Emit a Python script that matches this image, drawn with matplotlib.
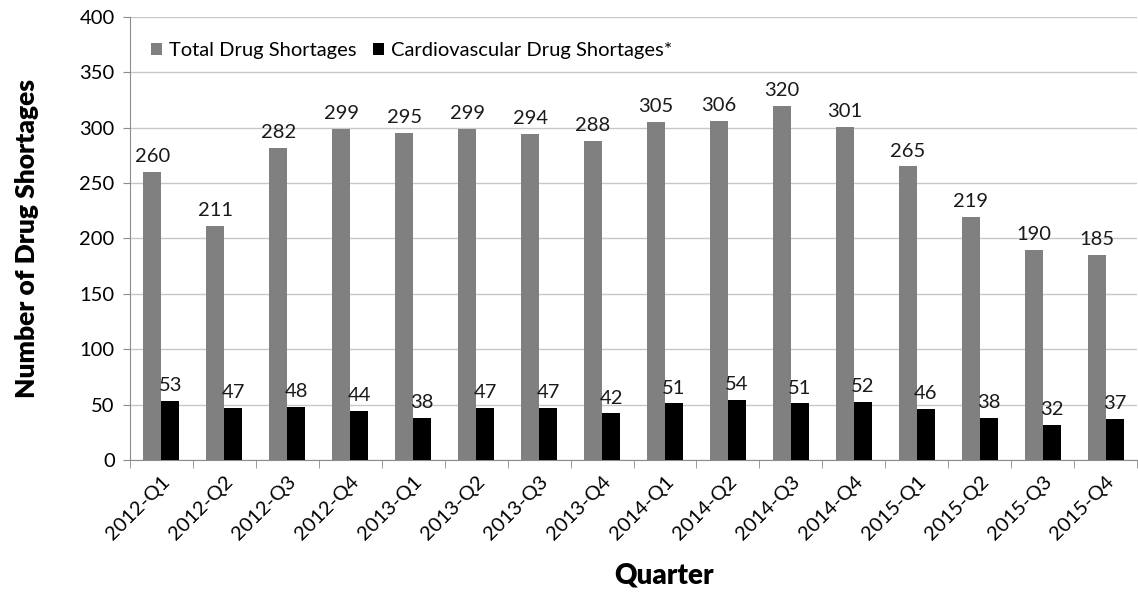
import matplotlib.pyplot as plt
import numpy as np

plt.rcParams["font.family"] = ["Lato", "DejaVu Sans"]

QUARTERS = ["2012-Q1", "2012-Q2", "2012-Q3", "2012-Q4",
            "2013-Q1", "2013-Q2", "2013-Q3", "2013-Q4",
            "2014-Q1", "2014-Q2", "2014-Q3", "2014-Q4",
            "2015-Q1", "2015-Q2", "2015-Q3", "2015-Q4"]
TOTAL = [260, 211, 282, 299, 295, 299, 294, 288, 305, 306, 320, 301, 265, 219, 190, 185]
CARDIO = [53, 47, 48, 44, 38, 47, 47, 42, 51, 54, 51, 52, 46, 38, 32, 37]

GRAY = "#808080"
AXIS = "#8c8c8c"


def main() -> None:
    fig = plt.figure(figsize=(11.38, 5.98), dpi=100)
    ax = fig.add_axes([0.1142, 0.2308, 0.885, 0.7408])

    x = np.arange(len(QUARTERS))
    w = 0.285
    b1 = ax.bar(x - w / 2, TOTAL, w, color=GRAY, label="Total Drug Shortages", zorder=3)
    b2 = ax.bar(x + w / 2, CARDIO, w, color="black", label="Cardiovascular Drug Shortages*", zorder=3)
    ax.bar_label(b1, padding=5, fontsize=14.5, color="#1a1a1a")
    ax.bar_label(b2, padding=5, fontsize=14.5, color="#1a1a1a")

    ax.set_xlim(-0.5, len(QUARTERS) - 0.5)
    ax.set_ylim(0, 400)
    ax.set_yticks(np.arange(0, 401, 50))
    ax.yaxis.grid(True, color="#c8c8c8", linewidth=1.0, zorder=0)
    ax.set_axisbelow(True)

    ax.set_xticks(x)
    ax.set_xticklabels(QUARTERS, rotation=45, ha="right", rotation_mode="anchor")
    ax.set_xticks(np.arange(-0.5, len(QUARTERS)), minor=True)
    ax.tick_params(axis="x", which="major", length=0, pad=9, labelsize=14.5)
    ax.tick_params(axis="x", which="minor", length=6, color=AXIS)
    ax.tick_params(axis="y", length=5, color=AXIS, labelsize=14.5, pad=6)

    for side in ["top", "right"]:
        ax.spines[side].set_visible(False)
    for side in ["left", "bottom"]:
        ax.spines[side].set_color(AXIS)

    ax.set_ylabel("Number of Drug Shortages", fontsize=19, fontweight="heavy", labelpad=29)
    ax.set_xlabel("Quarter", fontsize=20, fontweight="heavy")
    ax.xaxis.set_label_coords(0.53, -0.232)

    ax.legend(loc="upper left", bbox_to_anchor=(0.003, 0.985), ncol=2, frameon=False,
              fontsize=14.5, handlelength=0.55, handleheight=0.55, handletextpad=0.35,
              columnspacing=0.8)

    fig.savefig("out.png", dpi=100)
    plt.close(fig)


if __name__ == "__main__":
    main()
